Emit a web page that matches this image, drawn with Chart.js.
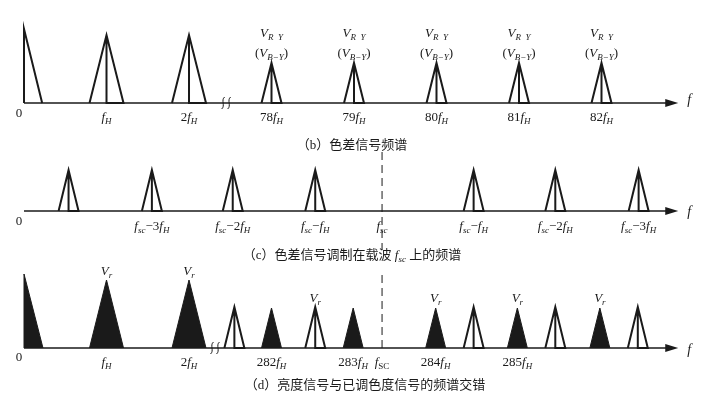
<!DOCTYPE html>
<html>
<head>
<meta charset="utf-8">
<script src="https://cdn.jsdelivr.net/npm/chart.js@4/dist/chart.umd.min.js"></script>
<style>
  body { margin: 0; background: #fff; }
  #wrap { width: 725px; height: 400px; position: relative; }
</style>
</head>
<body>
<div id="wrap"><canvas id="spec"></canvas></div>
<script>
// x positions are in "slots" (one slot = one line-frequency step on the drawing)
// amplitudes are relative heights

// (b) colour-difference spectrum
const bDcAmp = 7.4;
const bLumaSlots = [1, 2];
const bLumaAmps = [6.8, 6.8];
const bChromaSlots = [3, 4, 5, 6, 7];
const bChromaAmps = [4.0, 4.0, 4.0, 4.0, 4.0];
const bTickSlots = [0, 1, 2, 3, 4, 5, 6, 7];
const bTickLabels = ['0', 'f{H}', '2f{H}', '78f{H}', '79f{H}', '80f{H}', '81f{H}', '82f{H}'];
const bNameSlots = [3, 4, 5, 6, 7];
const bBreakSlot = 2.45;

// (c) modulated on subcarrier
const cChromaSlots = [0.54, 1.55, 2.53, 3.53, 5.45, 6.44, 7.45];
const cChromaAmps = [4.1, 4.1, 4.1, 4.1, 4.1, 4.1, 4.1];
const cScSlot = 4.34;
const cTickSlots = [0, 1.55, 2.53, 3.53, 4.34, 5.45, 6.44, 7.45];
const cTickLabels = ['0', 'f{sc}−3f{H}', 'f{sc}−2f{H}', 'f{sc}−f{H}', 'f{sc}', 'f{sc}−f{H}', 'f{sc}−2f{H}', 'f{sc}−3f{H}'];

// (d) interleaving
const dDcAmp = 7.4;
const dLumaSlots = [1, 2, 3, 3.99, 4.99, 5.98, 6.98];
const dLumaAmps = [6.8, 6.8, 4.0, 4.0, 4.0, 4.0, 4.0];
const dChromaSlots = [2.55, 3.53, 5.45, 6.44, 7.44];
const dChromaAmps = [4.1, 4.1, 4.1, 4.1, 4.1];
const dScSlot = 4.34;
const dTickSlots = [0, 1, 2, 3, 3.99, 4.34, 4.99, 5.98];
const dTickLabels = ['0', 'f{H}', '2f{H}', '282f{H}', '283f{H}', 'f[SC]', '284f{H}', '285f{H}'];
const dNameSlots = [1, 2, 3.53, 4.99, 5.98, 6.98];
const dBreakSlot = 2.315;

const AXIS_END = 7.93;
const INK = '#1a1a1a';

function openPeak(c, h, w, axis) {
  return {
    yAxisID: axis, borderColor: INK, borderWidth: 2, fill: false,
    data: [{x: c - w, y: 0}, {x: c, y: h}, {x: c + w, y: 0}, {x: c, y: 0}, {x: c, y: h}]
  };
}
function solidPeak(c, h, w, axis) {
  return {
    yAxisID: axis, borderColor: INK, borderWidth: 1, fill: 'origin', backgroundColor: INK,
    data: [{x: c - w, y: 0}, {x: c, y: h}, {x: c + w, y: 0}]
  };
}

const datasets = [];
// (b)
datasets.push({yAxisID: 'yB', borderColor: INK, borderWidth: 2, fill: false,
  data: [{x: 0, y: 0}, {x: 0, y: bDcAmp}, {x: 0.22, y: 0}]});
bLumaSlots.forEach((s, i) => datasets.push(openPeak(s, bLumaAmps[i], 0.206, 'yB')));
bChromaSlots.forEach((s, i) => datasets.push(openPeak(s, bChromaAmps[i], 0.121, 'yB')));
// (c)
cChromaSlots.forEach((s, i) => datasets.push(openPeak(s, cChromaAmps[i], 0.121, 'yC')));
datasets.push({yAxisID: 'yC', borderColor: INK, borderWidth: 1, borderDash: [8, 5], fill: false,
  data: [{x: cScSlot, y: 5.9}, {x: cScSlot, y: -3.9}]});
// (d)
datasets.push({yAxisID: 'yD', borderColor: INK, borderWidth: 1, fill: 'origin', backgroundColor: INK,
  data: [{x: 0, y: 0}, {x: 0, y: dDcAmp}, {x: 0.23, y: 0}]});
dLumaSlots.forEach((s, i) => datasets.push(solidPeak(s, dLumaAmps[i], dLumaAmps[i] > 5 ? 0.206 : 0.121, 'yD')));
dChromaSlots.forEach((s, i) => datasets.push(openPeak(s, dChromaAmps[i], 0.121, 'yD')));
datasets.push({yAxisID: 'yD', borderColor: INK, borderWidth: 1, borderDash: [8, 5], fill: false,
  data: [{x: dScSlot, y: 7.3}, {x: dScSlot, y: 0}]});

// tiny rich text: 'f' and 'V' italic, {..} italic subscript, [..] roman subscript
function parseRich(str) {
  const out = [];
  let mode = 'main';
  for (const ch of str) {
    if (ch === '{') { mode = 'si'; continue; }
    if (ch === '[') { mode = 'sr'; continue; }
    if (ch === '}' || ch === ']') { mode = 'main'; continue; }
    let st = mode;
    if (mode === 'main') st = (ch === 'f' || ch === 'V') ? 'i' : 'r';
    out.push({ch, st});
  }
  return out;
}
function fontFor(st, size) {
  const sub = st === 'si' || st === 'sr';
  const sz = sub ? Math.round(size * 0.72) : size;
  const it = (st === 'i' || st === 'si') ? 'italic ' : '';
  return it + sz + 'px "Liberation Serif", "Noto Sans CJK SC", serif';
}
function drawRich(ctx, str, x, y, size, align) {
  const parts = parseRich(str);
  let total = 0;
  parts.forEach(p => { ctx.font = fontFor(p.st, size); p.w = ctx.measureText(p.ch).width; total += p.w; });
  let cx = align === 'left' ? x : x - total / 2;
  ctx.textBaseline = 'alphabetic';
  ctx.textAlign = 'left';
  parts.forEach(p => {
    ctx.font = fontFor(p.st, size);
    const dy = (p.st === 'si' || p.st === 'sr') ? size * 0.22 : 0;
    ctx.fillText(p.ch, cx, y + dy);
    cx += p.w;
  });
}

const decor = {
  id: 'decor',
  afterDatasetsDraw(chart) {
    const ctx = chart.ctx;
    const xs = chart.scales.x;
    ctx.save();
    ctx.strokeStyle = INK;
    ctx.fillStyle = INK;
    // baselines with arrows
    ['yB', 'yC', 'yD'].forEach(id => {
      const y = chart.scales[id].getPixelForValue(0);
      const x0 = xs.getPixelForValue(0);
      const x1 = xs.getPixelForValue(AXIS_END);
      ctx.lineWidth = 1.5;
      ctx.beginPath(); ctx.moveTo(x0, y); ctx.lineTo(x1 - 8, y); ctx.stroke();
      ctx.beginPath(); ctx.moveTo(x1, y); ctx.lineTo(x1 - 13, y - 4); ctx.lineTo(x1 - 13, y + 4); ctx.closePath(); ctx.fill();
    });
    // break marks
    [[bBreakSlot, 'yB'], [dBreakSlot, 'yD']].forEach(([s, id]) => {
      const x = xs.getPixelForValue(s);
      const y = chart.scales[id].getPixelForValue(0);
      ctx.lineWidth = 1;
      [-3, 3].forEach(off => {
        ctx.beginPath();
        ctx.moveTo(x + off - 1.5, y + 6);
        ctx.bezierCurveTo(x + off + 2.5, y + 3, x + off - 2.5, y - 3, x + off + 1.5, y - 6);
        ctx.stroke();
      });
    });
    // tick labels
    const ticks = [[bTickSlots, bTickLabels, 121, 117], [cTickSlots, cTickLabels, 230, 225], [dTickSlots, dTickLabels, 366, 361]];
    ticks.forEach(([slots, labels, base, zeroBase]) => {
      slots.forEach((s, i) => {
        let x = xs.getPixelForValue(s);
        if (labels[i] === '0') x -= 5;
        drawRich(ctx, labels[i], x, labels[i] === '0' ? zeroBase : base, 13, 'center');
      });
    });
    // axis names
    const ax = xs.getPixelForValue(AXIS_END) + 9;
    drawRich(ctx, 'f', ax, 104, 14, 'left');
    drawRich(ctx, 'f', ax, 216, 14, 'left');
    drawRich(ctx, 'f', ax, 354, 14, 'left');
    // component names
    bNameSlots.forEach(s => {
      const x = xs.getPixelForValue(s);
      drawRich(ctx, 'V{R  Y}', x, 37, 13, 'center');
      drawRich(ctx, '(V{B−Y})', x, 57, 13, 'center');
    });
    dNameSlots.forEach((s, i) => {
      const x = xs.getPixelForValue(s);
      drawRich(ctx, 'V{r}', x, i < 2 ? 275 : 302, 13, 'center');
    });
    // captions
    drawRich(ctx, '（b）色差信号频谱', 352, 149, 13, 'center');
    drawRich(ctx, '（c）色差信号调制在载波 f{sc} 上的频谱', 352, 259, 13, 'center');
    drawRich(ctx, '（d）亮度信号与已调色度信号的频谱交错', 365, 389, 13, 'center');
    ctx.restore();
  }
};

new Chart(document.getElementById('spec'), {
  type: 'scatter',
  data: { datasets: datasets },
  options: {
    responsive: true,
    maintainAspectRatio: false,
    animation: false,
    layout: { padding: 0 },
    showLine: true,
    elements: { point: { radius: 0, hoverRadius: 0 }, line: { tension: 0 } },
    plugins: { legend: { display: false }, tooltip: { enabled: false } },
    scales: {
      x: { type: 'linear', display: false, min: -0.291, max: 8.497 },
      yB: { type: 'linear', display: false, min: -29.7, max: 10.3 },
      yC: { type: 'linear', display: false, min: -18.9, max: 21.1 },
      yD: { type: 'linear', display: false, min: -5.2, max: 34.8 }
    }
  },
  plugins: [decor]
});
</script>
</body>
</html>
